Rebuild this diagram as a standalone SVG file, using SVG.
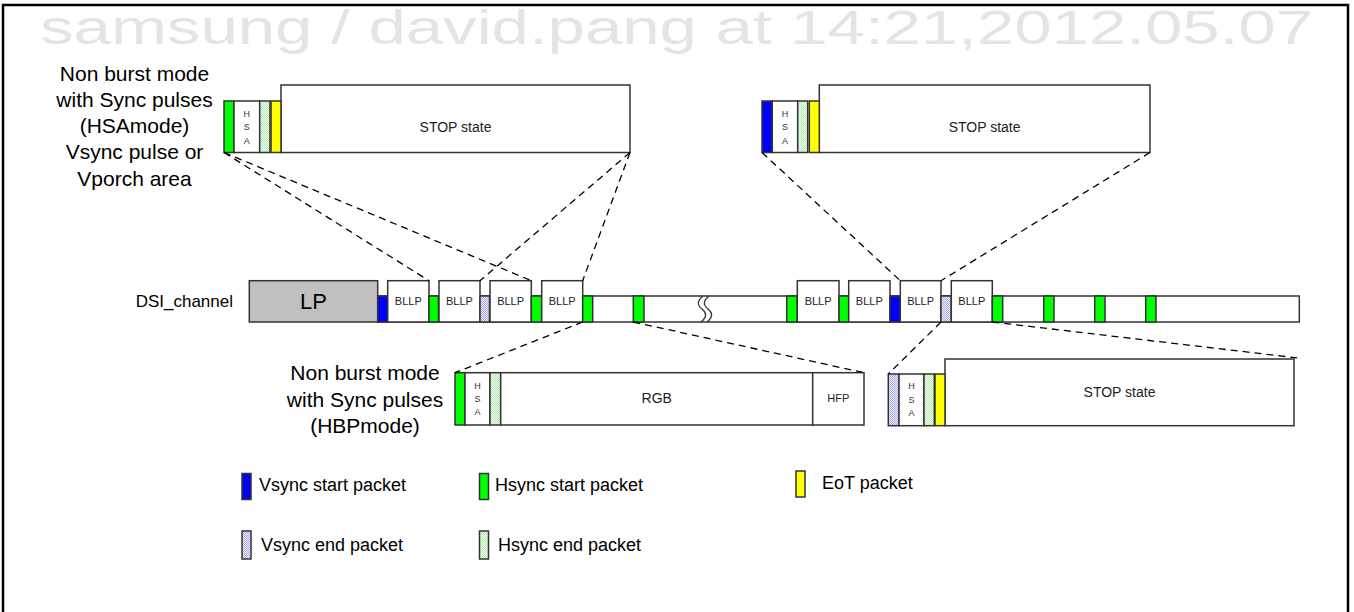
<svg xmlns="http://www.w3.org/2000/svg" width="1354" height="612" viewBox="0 0 1354 612">
<defs>
<pattern id="vePat" width="2" height="2" patternUnits="userSpaceOnUse"><rect width="2" height="2" fill="#f0f0ff"/><rect width="1" height="1" fill="#a8a8e8"/><rect x="1" y="1" width="1" height="1" fill="#a8a8e8"/></pattern>
<pattern id="hePat" width="2" height="2" patternUnits="userSpaceOnUse"><rect width="2" height="2" fill="#f2fff2"/><rect width="1" height="1" fill="#b0e8b0"/><rect x="1" y="1" width="1" height="1" fill="#b0e8b0"/></pattern>
<style>
.box{fill:#fff;stroke:#333;stroke-width:1.5}
.vs{fill:#0000ff;stroke:#333;stroke-width:1.5}
.hs{fill:#00ff00;stroke:#333;stroke-width:1.5}
.eot{fill:#ffff00;stroke:#333;stroke-width:1.5}
.ve{fill:url(#vePat);stroke:#333;stroke-width:1.5}
.he{fill:url(#hePat);stroke:#333;stroke-width:1.5}
.lp{fill:#c0c0c0;stroke:#333;stroke-width:1.5}
.t{font-family:"Liberation Sans",Arial,sans-serif;fill:#000}
.lbl{font-size:21px;text-anchor:middle}
.sm{font-size:11px;text-anchor:middle;fill:#222}
.hsa{font-size:9px;text-anchor:middle;fill:#333}
.st{font-size:14px;text-anchor:middle;fill:#222}
.lg{font-size:18px}
.dash{stroke:#000;stroke-width:1.3;stroke-dasharray:7 5;fill:none}
</style>
</defs>
<rect x="0" y="0" width="1354" height="612" fill="#fff"/>
<g id="frame"><rect x="3" y="5" width="1345" height="630" fill="none" stroke="#000" stroke-width="2.5"/></g>
<g id="watermark"><text class="t" x="40" y="44" font-size="48" style="fill:#e4e4e4" textLength="1273" lengthAdjust="spacingAndGlyphs">samsung / david.pang at 14:21,2012.05.07</text></g>

<g id="label-hsa-mode">
<text class="t lbl" x="134.5" y="80.7">Non burst mode</text>
<text class="t lbl" x="134.5" y="106.9">with Sync pulses</text>
<text class="t lbl" x="134.5" y="133.1">(HSAmode)</text>
<text class="t lbl" x="134.5" y="159.3">Vsync pulse or</text>
<text class="t lbl" x="134.5" y="185.5">Vporch area</text>
</g>

<g id="top-left-seq">
<rect class="box" x="281" y="85" width="349" height="67.5"/>
<text class="t st" x="455.5" y="132">STOP state</text>
<rect class="hs" x="224" y="101" width="10" height="51.5"/>
<rect class="box" x="234" y="101" width="25.7" height="51.5"/>
<text class="t hsa" x="246.8" y="116.5">H</text><text class="t hsa" x="246.8" y="130">S</text><text class="t hsa" x="246.8" y="143.5">A</text>
<rect class="he" x="259.7" y="101" width="10.3" height="51.5"/>
<rect class="eot" x="271" y="101" width="10" height="51.5"/>
</g>

<g id="top-right-seq">
<rect class="box" x="819.3" y="85" width="330.7" height="67.5"/>
<text class="t st" x="984.6" y="132">STOP state</text>
<rect class="vs" x="762" y="101" width="10.3" height="51.5"/>
<rect class="box" x="772.3" y="101" width="25.4" height="51.5"/>
<text class="t hsa" x="785" y="116.5">H</text><text class="t hsa" x="785" y="130">S</text><text class="t hsa" x="785" y="143.5">A</text>
<rect class="he" x="797.7" y="101" width="10" height="51.5"/>
<rect class="eot" x="809.3" y="101" width="10" height="51.5"/>
</g>

<g id="dsi-label"><text class="t" x="233" y="307" font-size="17" text-anchor="end">DSI_channel</text></g>

<g id="dsi-channel">
<rect class="box" x="377.7" y="296" width="921.6" height="26"/>
<rect class="lp" x="249.3" y="280.7" width="128.4" height="41.3"/>
<text class="t" x="313.5" y="309" font-size="22" text-anchor="middle">LP</text>
<rect class="vs" x="377.7" y="296" width="10" height="26"/>
<rect class="box" x="387.7" y="280.7" width="41.3" height="41.3"/><text class="t sm" x="408.3" y="305">BLLP</text>
<rect class="hs" x="429" y="296" width="9.5" height="26"/>
<rect class="box" x="439" y="280.7" width="41" height="41.3"/><text class="t sm" x="459.5" y="305">BLLP</text>
<rect class="ve" x="480" y="296" width="9.5" height="26"/>
<rect class="box" x="490" y="280.7" width="41.3" height="41.3"/><text class="t sm" x="510.6" y="305">BLLP</text>
<rect class="hs" x="531.3" y="296" width="10.4" height="26"/>
<rect class="box" x="541.7" y="280.7" width="41" height="41.3"/><text class="t sm" x="562.2" y="305">BLLP</text>
<rect class="hs" x="582.7" y="296" width="10" height="26"/>
<rect class="hs" x="633.3" y="296" width="10.7" height="26"/>
<path d="M703 296 C697 301,697 305,702 309 S707 317,701 322 M709 296 C703 301,703 305,708 309 S713 317,707 322" fill="none" stroke="#333" stroke-width="1.3"/>
<rect class="hs" x="786.7" y="296" width="10.6" height="26"/>
<rect class="box" x="797.3" y="280.7" width="41.7" height="41.3"/><text class="t sm" x="818.1" y="305">BLLP</text>
<rect class="hs" x="839" y="296" width="9.7" height="26"/>
<rect class="box" x="848.7" y="280.7" width="41.3" height="41.3"/><text class="t sm" x="869.3" y="305">BLLP</text>
<rect class="vs" x="890" y="296" width="10.3" height="26"/>
<rect class="box" x="900.3" y="280.7" width="40.7" height="41.3"/><text class="t sm" x="920.6" y="305">BLLP</text>
<rect class="ve" x="941" y="296" width="10.3" height="26"/>
<rect class="box" x="951.3" y="280.7" width="41" height="41.3"/><text class="t sm" x="971.8" y="305">BLLP</text>
<rect class="hs" x="992.3" y="296" width="10.4" height="26"/>
<rect class="hs" x="1043.7" y="296" width="10.3" height="26"/>
<rect class="hs" x="1094.7" y="296" width="10.3" height="26"/>
<rect class="hs" x="1145.7" y="296" width="10.3" height="26"/>
</g>

<g id="label-hbp-mode">
<text class="t lbl" x="365" y="380">Non burst mode</text>
<text class="t lbl" x="365" y="406.5">with Sync pulses</text>
<text class="t lbl" x="365" y="433">(HBPmode)</text>
</g>

<g id="bottom-left-seq">
<rect class="hs" x="455" y="372.7" width="10" height="52.3"/>
<rect class="box" x="465" y="372.7" width="25" height="52.3"/>
<text class="t hsa" x="477.5" y="389">H</text><text class="t hsa" x="477.5" y="402">S</text><text class="t hsa" x="477.5" y="415">A</text>
<rect class="he" x="490" y="372.7" width="10.7" height="52.3"/>
<rect class="box" x="500.7" y="372.7" width="312" height="52.3"/>
<text class="t st" x="656.7" y="403" font-size="13">RGB</text>
<rect class="box" x="812.7" y="372.7" width="51.3" height="52.3"/>
<text class="t sm" x="838.3" y="402">HFP</text>
</g>

<g id="bottom-right-seq">
<rect class="box" x="945" y="359" width="349" height="66.7"/>
<text class="t st" x="1119.5" y="397">STOP state</text>
<rect class="ve" x="888.3" y="374" width="10.7" height="51.7"/>
<rect class="box" x="899" y="374" width="25" height="51.7"/>
<text class="t hsa" x="911.5" y="389">H</text><text class="t hsa" x="911.5" y="403">S</text><text class="t hsa" x="911.5" y="416">A</text>
<rect class="he" x="924" y="374" width="10.3" height="51.7"/>
<rect class="eot" x="935" y="374" width="10" height="51.7"/>
</g>

<g id="connectors">
<line class="dash" x1="224" y1="152.5" x2="429" y2="280.7"/>
<line class="dash" x1="224" y1="152.5" x2="531.3" y2="280.7"/>
<line class="dash" x1="630" y1="152.5" x2="480" y2="280.7"/>
<line class="dash" x1="630" y1="152.5" x2="582.7" y2="280.7"/>
<line class="dash" x1="762" y1="152.5" x2="900.3" y2="280.7"/>
<line class="dash" x1="1150" y1="152.5" x2="941" y2="280.7"/>
<line class="dash" x1="582.7" y1="322" x2="455" y2="372.7"/>
<line class="dash" x1="633.3" y1="322" x2="864" y2="372.7"/>
<line class="dash" x1="941" y1="322" x2="888.3" y2="374"/>
<line class="dash" x1="992.3" y1="322" x2="1298" y2="358"/>
</g>

<g id="legend-vsync-start"><rect class="vs" x="242" y="473.5" width="9" height="26"/><text class="t lg" x="259" y="491">Vsync start packet</text></g>
<g id="legend-hsync-start"><rect class="hs" x="479.5" y="473.5" width="9" height="26"/><text class="t lg" x="495" y="491">Hsync start packet</text></g>
<g id="legend-eot"><rect class="eot" x="796" y="471" width="9" height="26"/><text class="t lg" x="822" y="489">EoT packet</text></g>
<g id="legend-vsync-end"><rect class="ve" x="242" y="531" width="9" height="28"/><text class="t lg" x="261" y="551">Vsync end packet</text></g>
<g id="legend-hsync-end"><rect class="he" x="479.5" y="531" width="9" height="28"/><text class="t lg" x="498" y="551">Hsync end packet</text></g>
</svg>
